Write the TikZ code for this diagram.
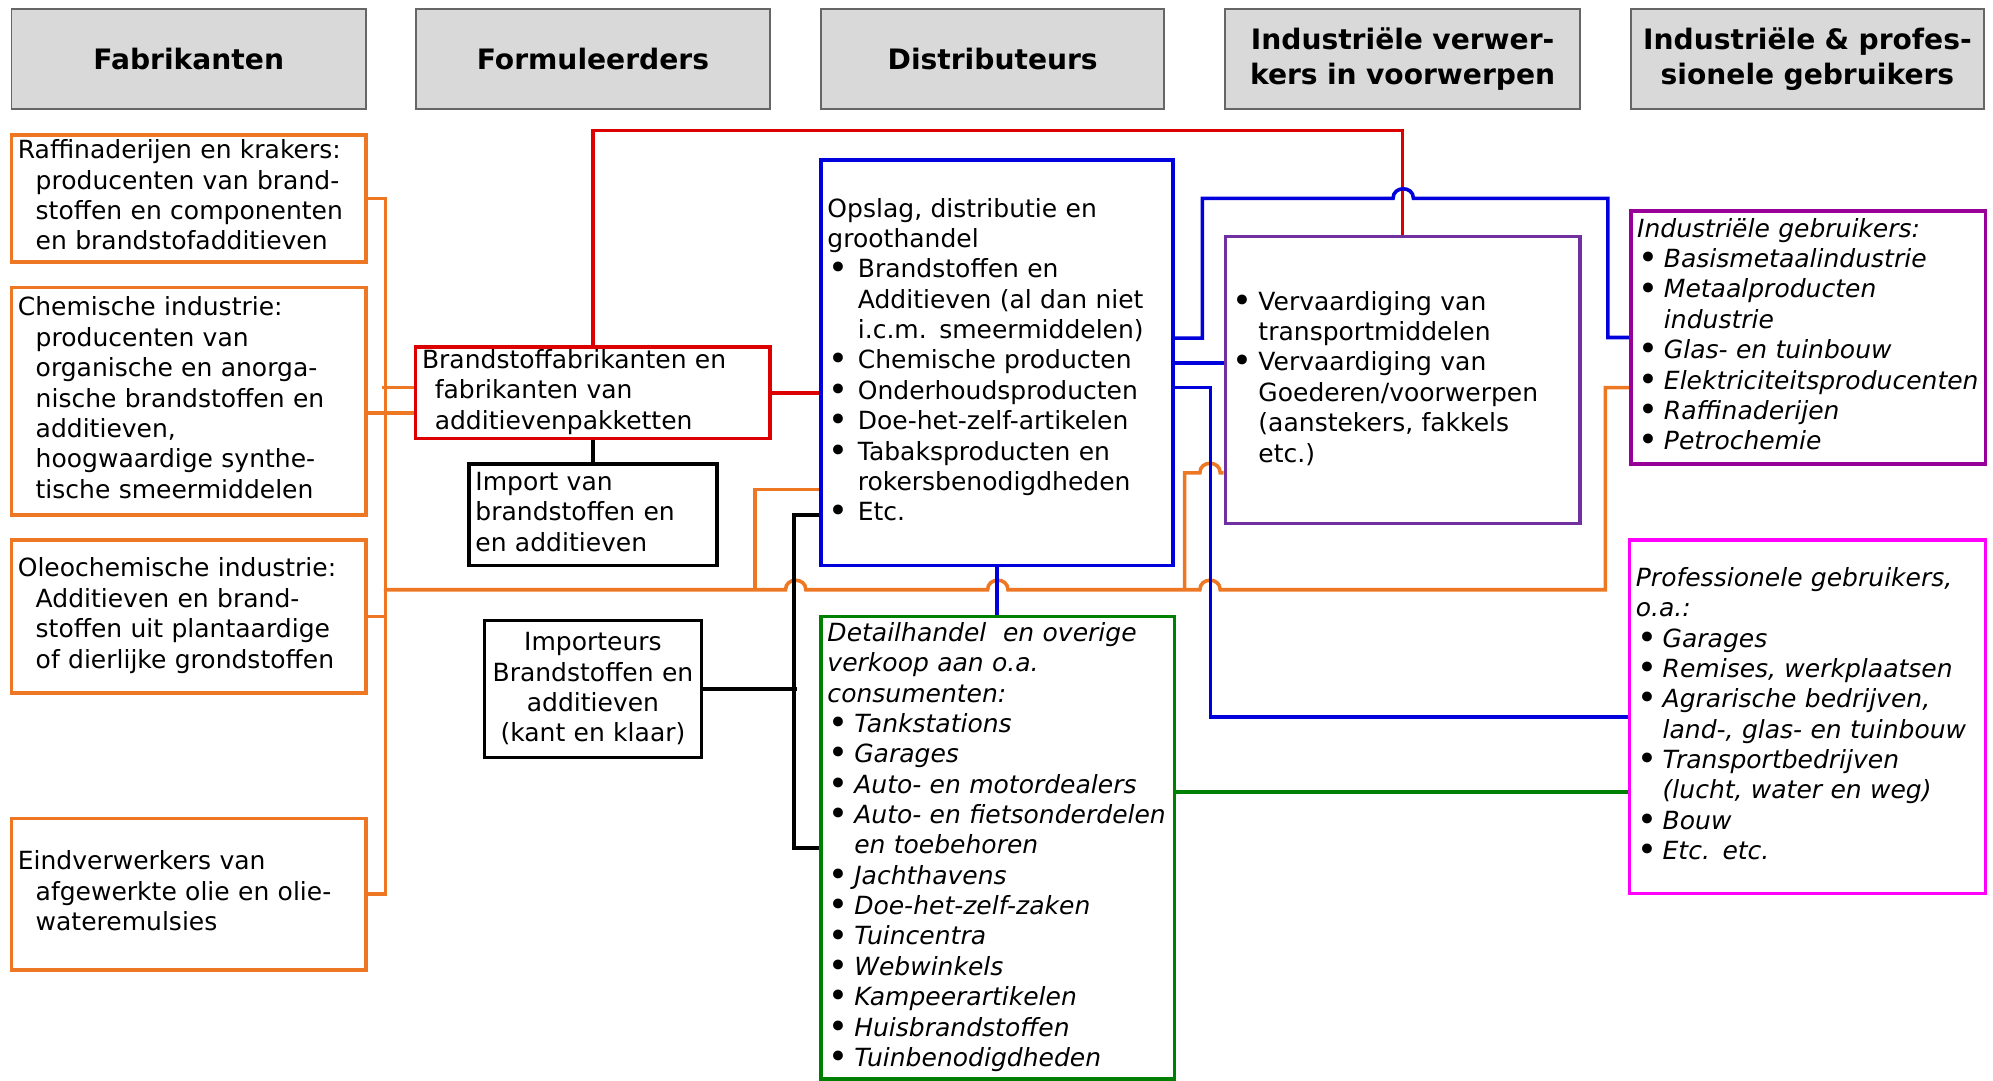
\documentclass[tikz,border=0pt]{standalone}
\usepackage{fontspec}
\setmainfont{DejaVu Sans}

\definecolor{forange}{RGB}{237,119,34}
\definecolor{fred}{RGB}{221,0,0}
\definecolor{fblue}{RGB}{0,0,221}
\definecolor{fpurple}{RGB}{112,48,160}
\definecolor{fplum}{RGB}{153,0,153}
\definecolor{fmagenta}{RGB}{255,0,255}
\definecolor{fgreen}{RGB}{0,128,0}
\definecolor{fgray}{RGB}{217,217,217}

\newcommand\lbul[1][12pt]{\makebox[#1][l]{\hspace{0.5pt}\raisebox{-0.9pt}{\scalebox{1.35}{\upshape\textbullet}}}}
\newcommand\lind[1][12pt]{\hspace*{#1}}
\newcommand\lns[1]{\begin{tabular}{@{}l@{}}#1\end{tabular}}

\begin{document}
\begin{tikzpicture}[x=0.02cm,y=-0.02cm,
  every node/.style={font=\fontsize{11.2}{13.6}\selectfont, inner xsep=0.1cm, inner ysep=0pt},
  hdr/.style={draw=black!60, line width=0.8pt, fill=fgray, minimum height=1.58cm,
    align=center, font=\fontsize{12.6}{15.3}\selectfont\bfseries},
  box/.style={draw, line width=1.6pt, align=left},
  oline/.style={forange, line width=1.6pt},
  rline/.style={fred, line width=1.6pt},
  bline/.style={fblue, line width=1.6pt},
  kline/.style={black, line width=1.6pt},
  gline/.style={fgreen, line width=1.6pt}]
 \useasboundingbox (0,0) rectangle (1568,850);
 % kolomkoppen
 \node[hdr, text width=5.38cm] (hfab) at (148.5,46.5) {Fabrikanten};
 \node[hdr, text width=5.38cm] (hform) at (466.5,46.5) {Formuleerders};
 \node[hdr, text width=5.2cm] (hdist) at (781,46.5) {Distributeurs};
 \node[hdr, text width=5.38cm] (hverw) at (1103.5,46.5) {Industriële verwer-\\kers in voorwerpen};
 \node[hdr, text width=5.36cm] (hgebr) at (1422,46.5) {Industriële \& profes-\\sionele gebruikers};
 % fabrikanten
 \node[box, forange, text=black, text width=5.38cm, minimum height=2cm] (raff) at (148.5,156)
  {\lns{Raffinaderijen en krakers:\\ \lind[8pt]producenten van brand-\\ \lind[8pt]stoffen en componenten\\ \lind[8pt]en brandstofadditieven}};
 \node[box, forange, text=black, text width=5.38cm, minimum height=3.58cm] (chem) at (148.5,315.5)
  {\lns{Chemische industrie:\\ \lind[8pt]producenten van\\ \lind[8pt]organische en anorga-\\ \lind[8pt]nische brandstoffen en\\ \lind[8pt]additieven,\\ \lind[8pt]hoogwaardige synthe-\\ \lind[8pt]tische smeermiddelen}};
 \node[box, forange, text=black, text width=5.38cm, minimum height=2.4cm] (oleo) at (148.5,485)
  {\lns{Oleochemische industrie:\\ \lind[8pt]Additieven en brand-\\ \lind[8pt]stoffen uit plantaardige\\ \lind[8pt]of dierlijke grondstoffen}};
 \node[box, forange, text=black, text width=5.38cm, minimum height=2.38cm] (eind) at (148.5,703.5)
  {\lns{Eindverwerkers van\\ \lind[8pt]afgewerkte olie en olie-\\ \lind[8pt]wateremulsies}};
 % formuleerders
 \node[box, fred, text=black, text width=5.38cm, minimum height=1.44cm] (bfab) at (466.5,309)
  {\lns{Brandstoffabrikanten en\\ \lind[5.7pt]fabrikanten van\\ \lind[5.7pt]additievenpakketten}};
 \node[box, text width=3.7cm, minimum height=1.6cm] (imp) at (466.5,405)
  {\lns{Import van\\ brandstoffen en\\ en additieven}};
 \node[box, text width=3.22cm, minimum height=2.16cm, align=center] (impk) at (466.5,542)
  {Importeurs\\ Brandstoffen en\\ additieven\\ (kant en klaar)};
 % distributeurs
 \node[box, fblue, text=black, text width=5.34cm, minimum height=6.38cm] (opslag) at (784.5,285.5)
  {\lns{Opslag, distributie en\\ groothandel\\ \lbul[13.6pt]Brandstoffen en\\ \lind[13.6pt]Additieven (al dan niet\\ \lind[13.6pt]i.c.m. smeermiddelen)\\ \lbul[13.6pt]Chemische producten\\ \lbul[13.6pt]Onderhoudsproducten\\ \lbul[13.6pt]Doe-het-zelf-artikelen\\ \lbul[13.6pt]Tabaksproducten en\\ \lind[13.6pt]rokersbenodigdheden\\ \lbul[13.6pt]Etc.}};
 \node[box, fgreen, text=black, text width=5.36cm, minimum height=7.28cm, font=\fontsize{11.2}{13.6}\selectfont\itshape] (detail) at (785,667)
  {\lns{Detailhandel~ en overige\\ verkoop aan o.a.\\ consumenten:\\ \lbul Tankstations\\ \lbul Garages\\ \lbul Auto- en motordealers\\ \lbul Auto- en fietsonderdelen\\ \lind en toebehoren\\ \lbul Jachthavens\\ \lbul Doe-het-zelf-zaken\\ \lbul Tuincentra\\ \lbul Webwinkels\\ \lbul Kampeerartikelen\\ \lbul Huisbrandstoffen\\ \lbul Tuinbenodigdheden}};
 % verwerkers
 \node[box, fpurple, text=black, text width=5.38cm, minimum height=4.52cm] (verw) at (1103.5,299)
  {\lns{\lbul[12pt]Vervaardiging van\\ \lind[12pt]transportmiddelen\\ \lbul[12pt]Vervaardiging van\\ \lind[12pt]Goederen/voorwerpen\\ \lind[12pt](aanstekers, fakkels\\ \lind[12pt]etc.)}};
 % gebruikers
 \node[box, fplum, text=black, text width=5.38cm, minimum height=3.98cm, font=\fontsize{11.2}{13.6}\selectfont\itshape] (igeb) at (1422.5,265.5)
  {\lns{Industriële gebruikers:\\ \lbul Basismetaalindustrie\\ \lbul Metaalproducten\\ \lind industrie\\ \lbul Glas- en tuinbouw\\ \lbul Elektriciteitsproducenten\\ \lbul Raffinaderijen\\ \lbul Petrochemie}};
 \node[box, fmagenta, text=black, text width=5.4cm, minimum height=5.56cm, font=\fontsize{11.2}{13.6}\selectfont\itshape] (prof) at (1422,564)
  {\lns{Professionele gebruikers,\\ o.a.:\\ \lbul Garages\\ \lbul Remises, werkplaatsen\\ \lbul Agrarische bedrijven,\\ \lind land-, glas- en tuinbouw\\ \lbul Transportbedrijven\\ \lind (lucht, water en weg)\\ \lbul Bouw\\ \lbul Etc. etc.}};
 % oranje verbindingen
 \draw[oline] (raff.east) -- ++(14,0) |- (eind.east);
 \draw[oline] (oleo.east) -- ++(14,0);
 \coordinate (c1) at ([yshift=-0.19cm]chem.east);
 \draw[oline] (c1) -- (c1 -| bfab.west);
 \coordinate (c2) at ([yshift=0.08cm]bfab.west);
 \draw[oline] (c2) -- ++(-25,0);
 \draw[oline] (302,464) -- (618,464) .. controls +(0,-10) and +(0,-10) .. (634,464)
  -- (777,464) .. controls +(0,-10) and +(0,-10) .. (793,464)
  -- (944,464) .. controls +(0,-10) and +(0,-10) .. (960,464)
  -- (1263,464) |- ([yshift=-0.79cm]igeb.west);
 \draw[oline] (594,464) |- ([yshift=-1.99cm]opslag.west);
 \draw[oline] (932,464) -- (932,372) -- (944,372) .. controls +(0,-10) and +(0,-10) .. (960,372)
  -- ([yshift=-1.46cm]verw.west);
 % rood
 \draw[rline] (bfab.north) -- ++(0,-169) -| (verw.north);
 \draw[rline] (bfab.east) -- (bfab.east -| opslag.west);
 % blauw
 \draw[bline] ([yshift=0.39cm]opslag.east) -| (946,156) -- (1096,156)
  .. controls +(0,-10) and +(0,-10) .. (1112,156) -- (1265,156) |- (igeb.west);
 \draw[bline] (opslag.east) -- (opslag.east -| verw.west);
 \draw[bline] ([yshift=-0.39cm]opslag.east) -- ++(28,0) |- (prof.west);
 \draw[bline] (opslag.south) -- (opslag.south |- detail.north);
 % zwart
 \draw[kline] (bfab.south) -- (imp.north);
 \draw[kline] ([yshift=-2.39cm]opslag.west) -- ++(-20,0) |- (detail.west);
 \draw[kline] (impk.east) -- ++(74,0);
 % groen
 \coordinate (g1) at ([yshift=0.88cm]detail.east);
 \draw[gline] (g1) -- (g1 -| prof.west);
\end{tikzpicture}
\end{document}
